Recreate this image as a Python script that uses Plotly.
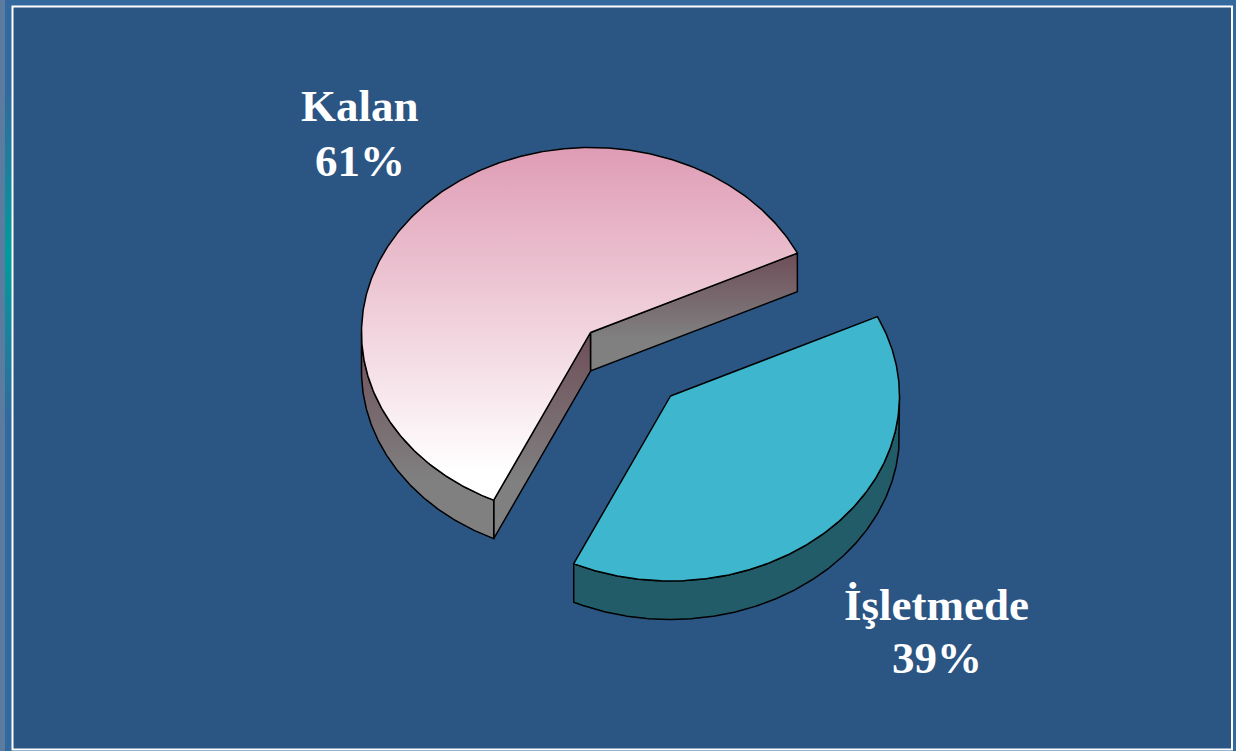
import numpy as np
import plotly.graph_objects as go

# --- data ---
categories = ["Kalan", "İşletmede"]
shares = [61, 39]
label_suffix = "%"

# --- canvas and drawing constants ---
W, H = 1236, 751
START_DEG = 25.4
RX, RY, DEPTH = 229.0, 185.0, 38.5
CENTERS = [(590.5, 332.5), (670.5, 396.0)]
LABEL_POS = [(360, 106, 161), (936.5, 605, 658)]
INK = "#000000"
FILL = "#2B5583"


def arc(cx, cy, a0, a1, dy=0.0):
    t = np.radians(np.linspace(a0, a1, max(int(abs(a1 - a0) * 2), 2)))
    return cx + RX * np.cos(t), cy - RY * np.sin(t) + dy


fig = go.Figure()


def poly(xs, ys, fillcolor=None, grad=None, line=True):
    xs = list(xs) + [xs[0]]
    ys = list(ys) + [ys[0]]
    kw = dict(fillcolor=fillcolor) if fillcolor else dict(fillgradient=grad)
    fig.add_trace(go.Scatter(
        x=xs, y=ys, mode="lines", fill="toself", hoverinfo="skip", showlegend=False,
        line=dict(color=INK, width=1.5) if line else dict(width=0, color="rgba(0,0,0,0)"),
        **kw))


def vgrad(y0, y1, stops):
    return dict(type="vertical", start=y0, stop=y1, colorscale=stops)


# background pieces
poly([0, W, W, 0], [0, 0, H, H], fillcolor="#33699D", line=False)
poly([0, 5, 5, 0], [0, 0, H, H], fillcolor="#5B7C9F", line=False)
poly([5, 12, 12, 5], [0, 0, H, H], line=False,
     grad=vgrad(0, H, [[0, "#33699D"], [0.12, "#33699D"], [0.34, "#009C9C"], [0.56, "#33699D"], [1, "#33699D"]]))
poly([12.5, 1232, 1232, 12.5], [6.5, 6.5, 749.5, 749.5], fillcolor=FILL, line=False)

# wedges, from the shares
sweep = [s / sum(shares) * 360 for s in shares]
a_pink = (START_DEG, START_DEG + sweep[0])
a_blue = (a_pink[1], a_pink[1] + sweep[1])
pc = CENTERS[0]
bc = CENTERS[1]

WALL = [[0, "#6E4E58"], [0.72, "#808080"], [1, "#808080"]]

# pink walls
ax, ay = arc(*pc, a_pink[0], a_pink[0])
poly([pc[0], ax[0], ax[0], pc[0]], [pc[1], ay[0], ay[0] + DEPTH, pc[1] + DEPTH],
     grad=vgrad(ay[0], pc[1] + DEPTH, WALL))
ex, ey = arc(*pc, a_pink[1], a_pink[1])
poly([pc[0], ex[0], ex[0], pc[0]], [pc[1], ey[0], ey[0] + DEPTH, pc[1] + DEPTH],
     grad=vgrad(pc[1], ey[0] + DEPTH, WALL))
tx, ty = arc(*pc, 180, a_pink[1])
bx, by = arc(*pc, 180, a_pink[1], DEPTH)
poly(list(tx) + list(bx[::-1]), list(ty) + list(by[::-1]),
     grad=vgrad(pc[1], ey[0] + DEPTH, WALL))

# pink top
tx, ty = arc(*pc, *a_pink)
poly([pc[0]] + list(tx), [pc[1]] + list(ty),
     grad=vgrad(pc[1] - RY, ey[0], [[0, "#DF9CB4"], [0.92, "#FFFFFF"], [1, "#FFFFFF"]]))

# blue wall and top
tx, ty = arc(*bc, a_blue[0], 360)
bx, by = arc(*bc, a_blue[0], 360, DEPTH)
poly(list(tx) + list(bx[::-1]), list(ty) + list(by[::-1]), fillcolor="#215C68")
tx, ty = arc(*bc, *a_blue)
poly([bc[0]] + list(tx), [bc[1]] + list(ty), fillcolor="#3DB6CE")

# frame
shapes = [dict(type="rect", xref="x", yref="y", x0=12.5, y0=6.5, x1=1232, y1=749.5,
               line=dict(color="#FFFFFF", width=2), layer="above")]

font = dict(family="Liberation Serif", size=45, color="#FFFFFF", weight="bold")
annotations = []
for cat, val, (x, y1, y2) in zip(categories, shares, LABEL_POS):
    annotations.append(dict(x=x, y=y1, text=f"<b>{cat}</b>", showarrow=False, font=font,
                            xref="x", yref="y", xanchor="center", yanchor="middle"))
    annotations.append(dict(x=x, y=y2, text=f"<b>{val}{label_suffix}</b>", showarrow=False, font=font,
                            xref="x", yref="y", xanchor="center", yanchor="middle"))

fig.update_layout(
    width=W, height=H, margin=dict(l=0, r=0, t=0, b=0), autosize=False,
    paper_bgcolor="#33699D", plot_bgcolor="rgba(0,0,0,0)",
    xaxis=dict(range=[0, W], visible=False, fixedrange=True),
    yaxis=dict(range=[H, 0], visible=False, fixedrange=True),
    shapes=shapes, annotations=annotations, showlegend=False,
)
fig.write_html("out.html", config=dict(displayModeBar=False),
               post_script="document.body.style.margin='0';document.body.style.overflow='hidden';")
